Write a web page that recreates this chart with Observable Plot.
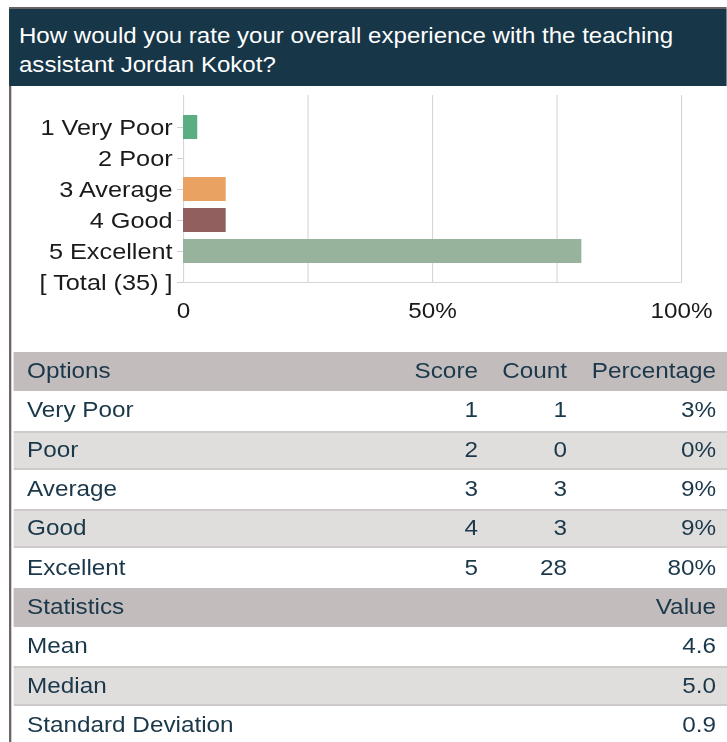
<!DOCTYPE html>
<html>
<head>
<meta charset="utf-8">
<script src="https://cdn.jsdelivr.net/npm/d3@7"></script>
<script src="https://cdn.jsdelivr.net/npm/@observablehq/plot@0.6"></script>
<style>
  html, body { margin: 0; padding: 0; background: #ffffff; }
  body { width: 727px; height: 742px; overflow: hidden; }
  #page { position: relative; width: 643.4px; height: 742px; transform: scaleX(1.13); transform-origin: 0 0;
          font-family: 'Liberation Sans', Arial, sans-serif; }
  #topline { position: absolute; left: 7.96px; top: 7px; width: 635.4px; height: 2px; background: #6b6264; }
  #leftline { position: absolute; left: 7.96px; top: 86px; width: 1.77px; height: 656px; background: #6b6264; }
  #header { position: absolute; left: 7.96px; top: 9px; width: 635.4px; height: 77px; background: #173648;
            color: #ffffff; font-size: 21.3px; line-height: 28.5px; box-sizing: border-box; padding: 13px 8px 0 8.85px; }
  #chart { position: absolute; left: 0; top: 87px; }
  #tbl { position: absolute; top: 352px; left: 11.5px; width: 632px; font-size: 21.5px; color: #1b384a; }
  #tbl .row { position: relative; height: 39.3px; display: flex; align-items: center; box-sizing: border-box; white-space: nowrap; }
  #tbl .row.head { background: #c3bcbc; }
  #tbl .row.alt { background: #e0dedd; box-shadow: inset 0 2px 0 #cfcaca, inset 0 -2px 0 #cfcaca; }
  #tbl .c { display: block; box-sizing: border-box; }
  #tbl .c0 { width: 353.5px; padding-left: 12.4px; text-align: left; }
  #tbl .c1 { width: 58px; text-align: right; }
  #tbl .c2 { width: 78.8px; text-align: right; }
  #tbl .c3 { width: 141.7px; padding-right: 9.8px; text-align: right; }
  #tbl .s0 { width: 490.3px; padding-left: 12.4px; text-align: left; }
</style>
</head>
<body>
<div id="page">
  <div id="topline"></div>
  <div id="header"></div>
  <div id="leftline"></div>
  <div id="chart"></div>
  <div id="tbl"></div>
</div>
<script>
// ---- data ----
const title = "How would you rate your overall experience with the teaching assistant Jordan Kokot?";
const options = ["Very Poor", "Poor", "Average", "Good", "Excellent"];
const scores = [1, 2, 3, 4, 5];
const counts = [1, 0, 3, 3, 28];
const total = 35;
const percentLabels = ["3%", "0%", "9%", "9%", "80%"];
const barColors = ["#5aae82", "#5aae82", "#e9a262", "#925f5f", "#97b39c"];
const totalLabel = "[ Total (35) ]";
const xTicks = [0, 0.5, 1];
const xTickLabels = ["0", "50%", "100%"];
const gridTicks = [0, 0.25, 0.5, 0.75, 1];
const statNames = ["Mean", "Median", "Standard Deviation"];
const statValues = ["4.6", "5.0", "0.9"];
const tableHeader = ["Options", "Score", "Count", "Percentage"];
const statHeader = ["Statistics", "Value"];

// ---- header ----
document.getElementById("header").textContent = title;

// ---- chart ----
const yLabels = options.map((o, i) => `${scores[i]} ${o}`).concat([totalLabel]);
const bars = options.map((o, i) => ({label: yLabels[i], pct: counts[i] / total, color: barColors[i]}));

const chart = Plot.plot({
  width: 643.4,
  height: 243,
  marginLeft: 161.95,
  marginRight: 40.75,
  marginTop: 8,
  marginBottom: 47,
  style: {fontFamily: "'Liberation Sans', Arial, sans-serif", fontSize: "21.5px", color: "#1a1a1a", background: "transparent", overflow: "visible"},
  x: {domain: [0, 1]},
  y: {domain: yLabels, range: [20.4, 214.8], padding: 0.22},
  color: {type: "identity"},
  marks: [
    Plot.gridX(gridTicks, {stroke: "#d6d6d6", strokeOpacity: 1}),
    Plot.ruleY([totalLabel], {stroke: "#d6d6d6"}),
    Plot.barX(bars, {x: "pct", y: "label", fill: "color"}),
    Plot.axisY({tickSize: 5.3, tickPadding: 4.4, stroke: "#cfcfcf", fill: "#1a1a1a", fontSize: 22.4, label: null}),
    Plot.axisX({ticks: xTicks, tickFormat: (d) => xTickLabels[xTicks.indexOf(d)], tickSize: 0, tickPadding: 19.5, fill: "#1a1a1a", label: null})
  ]
});
document.getElementById("chart").appendChild(chart);

// ---- table ----
const tbl = d3.select("#tbl");
const hr = tbl.append("div").attr("class", "row head");
tableHeader.forEach((h, i) => hr.append("span").attr("class", "c c" + i).text(h));

options.forEach((o, i) => {
  const r = tbl.append("div").attr("class", "row" + (i % 2 === 1 ? " alt" : ""));
  [o, scores[i], counts[i], percentLabels[i]].forEach((v, j) => r.append("span").attr("class", "c c" + j).text(v));
});

const sh = tbl.append("div").attr("class", "row head");
sh.append("span").attr("class", "c s0").text(statHeader[0]);
sh.append("span").attr("class", "c c3").text(statHeader[1]);

statNames.forEach((n, i) => {
  const r = tbl.append("div").attr("class", "row" + (i % 2 === 1 ? " alt" : ""));
  r.append("span").attr("class", "c s0").text(n);
  r.append("span").attr("class", "c c3").text(statValues[i]);
});
</script>
</body>
</html>
